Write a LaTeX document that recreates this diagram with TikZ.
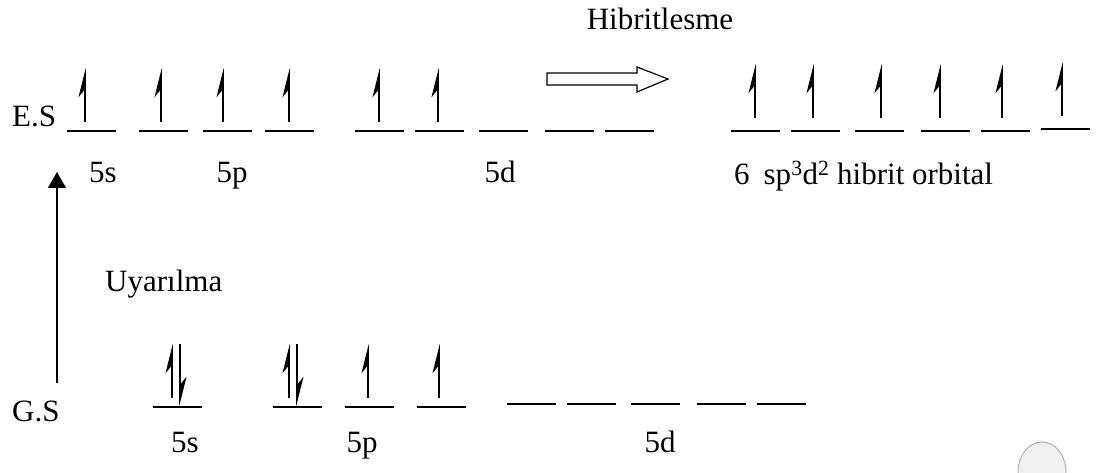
\documentclass[tikz,border=0pt]{standalone}
\usepackage{fontspec}
\setmainfont{Liberation Serif}
\usetikzlibrary{arrows.meta}

\tikzset{
  lvl/.style={line width=1.6pt},
  spin/.style={line width=1.6pt, -{Stealth[harpoon,length=26pt,width=13pt,inset=8pt]}},
  lbl/.style={inner sep=0pt, anchor=base, font=\fontsize{31}{37}\selectfont},
}
% one orbital level: left end x, height y
\newcommand{\orbline}[2]{\draw[lvl] (#1,#2) -- ++(49,0);}

\begin{document}
\begin{tikzpicture}[x=1pt, y=-1pt, line cap=butt, line join=miter]

  %% ==== excited state (E.S) ====
  \node[lbl, anchor=base west] (es) at (12,127) {E.S};
  \foreach \x in {67,139,203,265,355,415,479,545,605} {\orbline{\x}{131}}
  \foreach \x in {85,161,223,289,379,438} {\draw[spin] (\x,122) -- (\x,68);}

  \node[lbl] (es5s) at (103,183) {5s};
  \node[lbl] (es5p) at (232,183) {5p};
  \node[lbl] (es5d) at (500,183) {5d};

  %% ==== hybridisation arrow (hollow) ====
  \node[lbl] (hib) at (660,30) {Hibritlesme};
  \draw[line width=1.2pt, fill=white]
    (547,73) -- (637,73) -- (637,67) -- (668,79) -- (637,92) -- (637,85) -- (547,85) -- cycle;

  %% ==== sp3d2 hybrid orbitals ====
  \foreach \x in {731,791,855,921,981} {\orbline{\x}{131}}
  \orbline{1041}{129}
  \foreach \x in {755,813,881,940,1002} {\draw[spin] (\x,118) -- (\x,64);}
  \draw[spin] (1062,116) -- (1062,62);
  \node[lbl, anchor=base west] (hyb) at (734,185) {6\hspace{14pt}sp\textsuperscript{3}d\textsuperscript{2} hibrit orbital};

  %% ==== excitation arrow ====
  \node[lbl, anchor=base west] (uya) at (105,292) {Uyarılma};
  \coordinate (gsfoot) at (57,383);
  \coordinate (estip) at (57,172);
  \draw[line width=1.2pt, -{Triangle[length=16pt,width=18pt]}] (gsfoot) -- (estip);

  %% ==== ground state (G.S) ====
  \node[lbl, anchor=base west] (gs) at (12,421) {G.S};
  \foreach \x in {153,273,345,417} {\orbline{\x}{407}}
  \foreach \x in {507,567,631,697,757} {\orbline{\x}{404}}
  % paired electrons
  \foreach \x in {172,289} {
    \draw[spin] (\x,398) -- (\x,344);
    \draw[spin] (\x+8,344) -- (\x+8,406);
  }
  \foreach \x in {368,439} {\draw[spin] (\x,398) -- (\x,344);}

  \node[lbl] (gs5s) at (185,452) {5s};
  \node[lbl] (gs5p) at (362,452) {5p};
  \node[lbl] (gs5d) at (660,452) {5d};

  %% ==== corner blob ====
  \draw[gray!60, fill=gray!12, line width=1pt] (1042,472) ellipse (24 and 30);

  \pgfresetboundingbox
  \path[use as bounding box] (0,0) rectangle (1096,473);
\end{tikzpicture}
\end{document}
